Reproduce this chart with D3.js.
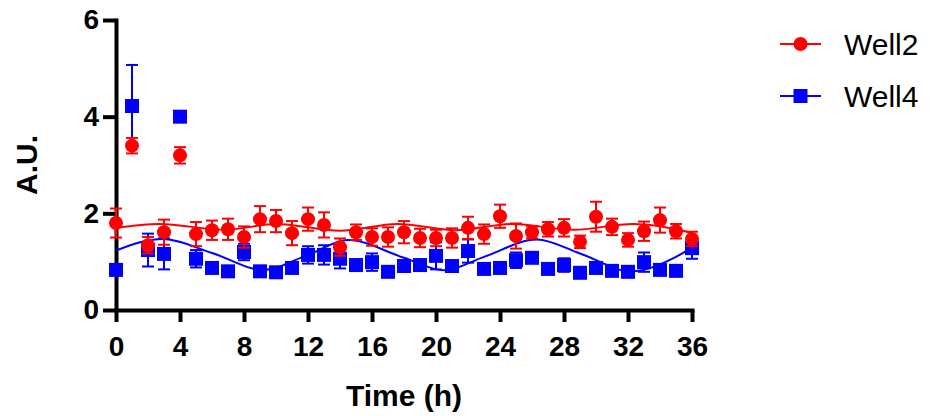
<!DOCTYPE html>
<html>
<head>
<meta charset="utf-8">
<script src="https://cdn.jsdelivr.net/npm/d3@7"></script>
<style>
  body { margin: 0; background: #fff; }
  text { font-family: 'Liberation Sans', Arial, sans-serif; fill: #000; }
</style>
</head>
<body>
<div id="chart"></div>
<script>
const hours = [0, 1, 2, 3, 4, 5, 6, 7, 8, 9, 10, 11, 12, 13, 14, 15, 16, 17, 18,
  19, 20, 21, 22, 23, 24, 25, 26, 27, 28, 29, 30, 31, 32, 33, 34, 35, 36];

const well2Mean = [1.80, 3.40, 1.34, 1.61, 3.20, 1.57, 1.65, 1.67, 1.51, 1.88, 1.84, 1.59, 1.88,
  1.76, 1.30, 1.61, 1.51, 1.51, 1.61, 1.49, 1.49, 1.49, 1.70, 1.57, 1.94, 1.53, 1.61, 1.67, 1.70,
  1.41, 1.93, 1.72, 1.45, 1.63, 1.86, 1.63, 1.47];
const well2Err = [0.30, 0.16, 0.17, 0.26, 0.17, 0.25, 0.20, 0.22, 0.22, 0.27, 0.23, 0.25, 0.24,
  0.26, 0.18, 0.16, 0.18, 0.20, 0.23, 0.19, 0.17, 0.20, 0.23, 0.20, 0.24, 0.26, 0.13, 0.15, 0.18,
  0.13, 0.31, 0.17, 0.14, 0.20, 0.26, 0.15, 0.15];

const well4Mean = [0.83, 4.22, 1.24, 1.16, 4.00, 1.06, 0.87, 0.80, 1.20, 0.80, 0.78, 0.87, 1.14,
  1.14, 1.06, 0.93, 0.99, 0.79, 0.91, 0.93, 1.12, 0.91, 1.22, 0.85, 0.87, 1.03, 1.08, 0.85, 0.93,
  0.77, 0.87, 0.81, 0.79, 0.99, 0.83, 0.81, 1.28];
const well4Err = [0, 0.85, 0.34, 0.32, 0, 0.18, 0, 0, 0.17, 0, 0, 0, 0.18, 0.20, 0.20, 0.10, 0.18,
  0, 0, 0.05, 0.28, 0, 0.24, 0, 0, 0.16, 0, 0, 0.14, 0, 0, 0, 0, 0.20, 0, 0, 0.22];

// fitted curves
const fit2Time = [0, 2.7, 6.8, 10, 14, 17.6, 21.2, 24.8, 28.6, 32.3, 36];
const fit2Value = [1.70, 1.78, 1.66, 1.78, 1.64, 1.78, 1.65, 1.78, 1.66, 1.78, 1.60];
const fit4Time = [0, 2.9, 6, 9.2, 12, 14.5, 18, 20.5, 23, 26.3, 29, 32.2, 35, 36];
const fit4Value = [1.23, 1.47, 1.18, 0.83, 1.14, 1.45, 1.08, 0.82, 1.10, 1.46, 1.17, 0.80, 1.10, 1.29];

const xTicks = [0, 4, 8, 12, 16, 20, 24, 28, 32, 36];
const yTicks = [0, 2, 4, 6];
const seriesNames = ['Well2', 'Well4'];
const colors = ['#ff0000', '#0000ff'];

const margin = { top: 20, right: 238, bottom: 106, left: 116 };
const width = 930 - margin.left - margin.right;
const height = 416 - margin.top - margin.bottom;

const svg = d3.select('#chart')
  .append('svg')
  .attr('width', 930)
  .attr('height', 416);

const container = svg.append('g')
  .attr('transform', `translate(${margin.left},${margin.top})`);

const xScale = d3.scaleLinear().domain([0, 36]).range([0, width]);
const yScale = d3.scaleLinear().domain([0, 6]).range([height, 0]);

const xAxis = container.append('g')
  .attr('transform', `translate(0,${height})`)
  .call(d3.axisBottom(xScale).tickValues(xTicks).tickFormat(d3.format('d'))
    .tickSize(12).tickSizeOuter(0).tickPadding(14));

const yAxis = container.append('g')
  .call(d3.axisLeft(yScale).tickValues(yTicks).tickFormat(d3.format('d'))
    .tickSize(13).tickSizeOuter(0).tickPadding(4));

[xAxis, yAxis].forEach((ax) => {
  ax.select('.domain').attr('stroke-width', 4).attr('stroke-linecap', 'square');
  ax.selectAll('.tick line').attr('stroke-width', 4);
  ax.selectAll('.tick text')
    .attr('font-family', "'Liberation Sans', Arial, sans-serif")
    .attr('font-size', 28)
    .attr('font-weight', 'bold');
});

container.append('text')
  .attr('x', width / 2)
  .attr('y', 386)
  .attr('text-anchor', 'middle')
  .attr('font-size', 30)
  .attr('font-weight', 'bold')
  .text('Time (h)');

container.append('text')
  .attr('transform', `translate(-79,${height / 2}) rotate(-90)`)
  .attr('text-anchor', 'middle')
  .attr('font-size', 30)
  .attr('font-weight', 'bold')
  .text('A.U.');

const series = [
  { name: seriesNames[0], mean: well2Mean, err: well2Err, fitT: fit2Time, fitV: fit2Value, color: colors[0], shape: 'circle' },
  { name: seriesNames[1], mean: well4Mean, err: well4Err, fitT: fit4Time, fitV: fit4Value, color: colors[1], shape: 'square' }
];

const line = d3.line()
  .x((d) => xScale(d[0]))
  .y((d) => yScale(d[1]))
  .curve(d3.curveMonotoneX);

function drawMarker(g, shape, color) {
  if (shape === 'circle') {
    g.append('circle').attr('r', 7).attr('fill', color);
  } else {
    g.append('rect').attr('x', -7).attr('y', -7).attr('width', 14).attr('height', 14).attr('fill', color);
  }
}

// blue first so red sits on top
series.slice().reverse().forEach((s) => {
  const g = container.append('g');
  g.append('path')
    .datum(s.fitT.map((t, i) => [t, s.fitV[i]]))
    .attr('fill', 'none')
    .attr('stroke', s.color)
    .attr('stroke-width', 2)
    .attr('d', line);

  const pts = hours.map((h, i) => ({ h, v: s.mean[i], e: s.err[i] }));

  const bars = g.selectAll('.err')
    .data(pts.filter((d) => d.e > 0))
    .enter()
    .append('g')
    .attr('stroke', s.color)
    .attr('stroke-width', 2);
  bars.append('line')
    .attr('x1', (d) => xScale(d.h)).attr('x2', (d) => xScale(d.h))
    .attr('y1', (d) => yScale(d.v - d.e)).attr('y2', (d) => yScale(d.v + d.e));
  bars.append('line')
    .attr('x1', (d) => xScale(d.h) - 6).attr('x2', (d) => xScale(d.h) + 6)
    .attr('y1', (d) => yScale(d.v + d.e)).attr('y2', (d) => yScale(d.v + d.e));
  bars.append('line')
    .attr('x1', (d) => xScale(d.h) - 6).attr('x2', (d) => xScale(d.h) + 6)
    .attr('y1', (d) => yScale(d.v - d.e)).attr('y2', (d) => yScale(d.v - d.e));

  g.selectAll('.pt')
    .data(pts)
    .enter()
    .append('g')
    .attr('transform', (d) => `translate(${xScale(d.h)},${yScale(d.v)})`)
    .each(function () { drawMarker(d3.select(this), s.shape, s.color); });
});

// legend
const legend = svg.append('g').attr('transform', 'translate(780,44)');
series.forEach((s, i) => {
  const row = legend.append('g').attr('transform', `translate(0,${i * 52})`);
  row.append('line').attr('x1', 0).attr('x2', 41).attr('stroke', s.color).attr('stroke-width', 2);
  const m = row.append('g').attr('transform', 'translate(20.5,0)');
  drawMarker(m, s.shape, s.color);
  row.append('text')
    .attr('x', 64)
    .attr('y', 11)
    .attr('font-size', 30)
    .text(s.name);
});
</script>
</body>
</html>
